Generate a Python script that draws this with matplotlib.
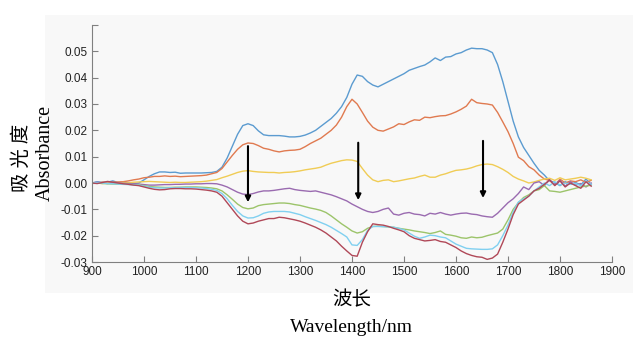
import numpy as np
import matplotlib
matplotlib.use('Agg')
from matplotlib import pyplot as plt
from matplotlib.patches import Rectangle

# wavelength grid (nm), 10 nm steps
wavelength = np.arange(900, 1861, 10)

blue = [0.0000, 0.0005, 0.0002, 0.0003, 0.0008, 0.0002, 0.0000, -0.0003, -0.0002, 0.0000,
        0.0012, 0.0025, 0.0035, 0.0042, 0.0042, 0.0040, 0.0041, 0.0037, 0.0038, 0.0038,
        0.0038, 0.0038, 0.0039, 0.0040, 0.0044, 0.0060, 0.0095, 0.0140, 0.0185, 0.0218,
        0.0225, 0.0218, 0.0198, 0.0183, 0.0180, 0.0180, 0.0180, 0.0178, 0.0175, 0.0175,
        0.0177, 0.0182, 0.0190, 0.0200, 0.0215, 0.0230, 0.0245, 0.0265, 0.0290, 0.0325,
        0.0375, 0.0410, 0.0405, 0.0385, 0.0372, 0.0365, 0.0375, 0.0385, 0.0395, 0.0405,
        0.0415, 0.0428, 0.0435, 0.0442, 0.0448, 0.0460, 0.0475, 0.0465, 0.0478, 0.0480,
        0.0490, 0.0495, 0.0505, 0.0512, 0.0510, 0.0510, 0.0505, 0.0495, 0.0450, 0.0385,
        0.0310, 0.0235, 0.0175, 0.0135, 0.0105, 0.0075, 0.0048, 0.0030, 0.0008, 0.0002,
        -0.0010, 0.0005, -0.0005, 0.0002, -0.0008, 0.0015, -0.0005]

orange = [0.0000, 0.0000, 0.0003, 0.0002, 0.0003, 0.0004, 0.0005, 0.0008, 0.0012, 0.0015,
          0.0020, 0.0022, 0.0025, 0.0025, 0.0027, 0.0025, 0.0026, 0.0024, 0.0025, 0.0026,
          0.0027, 0.0028, 0.0030, 0.0035, 0.0040, 0.0055, 0.0080, 0.0105, 0.0128, 0.0145,
          0.0152, 0.0150, 0.0142, 0.0132, 0.0128, 0.0122, 0.0118, 0.0122, 0.0124, 0.0125,
          0.0128, 0.0138, 0.0150, 0.0160, 0.0170, 0.0185, 0.0200, 0.0220, 0.0250, 0.0290,
          0.0318, 0.0300, 0.0268, 0.0235, 0.0212, 0.0200, 0.0197, 0.0205, 0.0213, 0.0225,
          0.0222, 0.0232, 0.0240, 0.0238, 0.0250, 0.0248, 0.0252, 0.0255, 0.0256, 0.0262,
          0.0270, 0.0280, 0.0292, 0.0318, 0.0305, 0.0302, 0.0300, 0.0296, 0.0268, 0.0232,
          0.0195, 0.0150, 0.0098, 0.0085, 0.0062, 0.0050, 0.0030, 0.0015, 0.0010, -0.0008,
          0.0015, 0.0000, 0.0008, 0.0005, 0.0012, 0.0002, 0.0010]

yellow = [0.0000, 0.0000, -0.0002, 0.0000, 0.0001, 0.0000, 0.0002, 0.0001, 0.0003, 0.0004,
          0.0005, 0.0006, 0.0005, 0.0004, 0.0003, 0.0002, 0.0003, 0.0002, 0.0002, 0.0003,
          0.0004, 0.0005, 0.0007, 0.0010, 0.0013, 0.0020, 0.0026, 0.0033, 0.0040, 0.0045,
          0.0047, 0.0044, 0.0042, 0.0041, 0.0040, 0.0040, 0.0038, 0.0040, 0.0041, 0.0043,
          0.0046, 0.0050, 0.0053, 0.0056, 0.0060, 0.0068, 0.0075, 0.0080, 0.0085, 0.0088,
          0.0087, 0.0082, 0.0055, 0.0030, 0.0012, 0.0005, 0.0010, 0.0012, 0.0005, 0.0008,
          0.0012, 0.0016, 0.0019, 0.0025, 0.0030, 0.0022, 0.0022, 0.0030, 0.0035, 0.0042,
          0.0048, 0.0050, 0.0053, 0.0058, 0.0065, 0.0070, 0.0072, 0.0070, 0.0062, 0.0052,
          0.0040, 0.0025, 0.0015, 0.0008, 0.0000, 0.0004, 0.0010, 0.0015, 0.0018, 0.0010,
          0.0020, 0.0012, 0.0015, 0.0018, 0.0022, 0.0018, 0.0012]

purple = [0.0000, 0.0003, 0.0000, -0.0002, 0.0001, 0.0000, -0.0001, -0.0002, -0.0003, -0.0004,
          -0.0006, -0.0008, -0.0008, -0.0007, -0.0006, -0.0006, -0.0005, -0.0005, -0.0004, -0.0004,
          -0.0003, -0.0003, -0.0002, -0.0002, -0.0003, -0.0008, -0.0015, -0.0025, -0.0035, -0.0042,
          -0.0044, -0.0040, -0.0034, -0.0030, -0.0030, -0.0028, -0.0025, -0.0022, -0.0020, -0.0025,
          -0.0028, -0.0030, -0.0032, -0.0030, -0.0035, -0.0040, -0.0045, -0.0052, -0.0060, -0.0068,
          -0.0080, -0.0090, -0.0100, -0.0108, -0.0112, -0.0108, -0.0100, -0.0095, -0.0118, -0.0122,
          -0.0115, -0.0112, -0.0118, -0.0120, -0.0125, -0.0115, -0.0118, -0.0112, -0.0118, -0.0122,
          -0.0118, -0.0115, -0.0114, -0.0118, -0.0120, -0.0125, -0.0128, -0.0130, -0.0115, -0.0095,
          -0.0075, -0.0060, -0.0040, -0.0015, -0.0025, 0.0000, 0.0005, -0.0010, 0.0012, -0.0005,
          0.0010, -0.0012, 0.0005, -0.0008, -0.0002, -0.0015, 0.0000]

green = [0.0000, 0.0000, -0.0002, -0.0003, -0.0004, -0.0004, -0.0005, -0.0005, -0.0006, -0.0007,
         -0.0010, -0.0013, -0.0015, -0.0016, -0.0017, -0.0017, -0.0016, -0.0016, -0.0015, -0.0015,
         -0.0015, -0.0016, -0.0017, -0.0019, -0.0022, -0.0030, -0.0045, -0.0062, -0.0080, -0.0093,
         -0.0098, -0.0095, -0.0086, -0.0082, -0.0080, -0.0078, -0.0076, -0.0076, -0.0078, -0.0082,
         -0.0085, -0.0090, -0.0095, -0.0099, -0.0104, -0.0112, -0.0125, -0.0140, -0.0155, -0.0168,
         -0.0182, -0.0190, -0.0185, -0.0172, -0.0165, -0.0164, -0.0165, -0.0167, -0.0168, -0.0172,
         -0.0175, -0.0178, -0.0182, -0.0185, -0.0188, -0.0192, -0.0188, -0.0182, -0.0195, -0.0198,
         -0.0202, -0.0208, -0.0210, -0.0205, -0.0208, -0.0206, -0.0200, -0.0195, -0.0190, -0.0175,
         -0.0140, -0.0100, -0.0075, -0.0055, -0.0045, -0.0030, -0.0025, -0.0010, -0.0030, -0.0032,
         -0.0035, -0.0030, -0.0025, -0.0020, -0.0015, -0.0012, -0.0008]

cyan = [0.0000, 0.0002, 0.0000, -0.0002, -0.0003, -0.0004, -0.0005, -0.0006, -0.0007, -0.0008,
        -0.0012, -0.0016, -0.0018, -0.0019, -0.0019, -0.0018, -0.0018, -0.0017, -0.0017, -0.0017,
        -0.0018, -0.0019, -0.0021, -0.0024, -0.0028, -0.0040, -0.0060, -0.0085, -0.0108, -0.0125,
        -0.0133, -0.0132, -0.0125, -0.0115, -0.0110, -0.0108, -0.0108, -0.0108, -0.0110, -0.0115,
        -0.0120, -0.0128, -0.0135, -0.0142, -0.0150, -0.0158, -0.0168, -0.0180, -0.0192, -0.0205,
        -0.0235, -0.0237, -0.0215, -0.0180, -0.0165, -0.0165, -0.0166, -0.0166, -0.0168, -0.0172,
        -0.0178, -0.0190, -0.0202, -0.0210, -0.0205, -0.0198, -0.0200, -0.0205, -0.0208, -0.0220,
        -0.0232, -0.0240, -0.0248, -0.0250, -0.0251, -0.0252, -0.0252, -0.0250, -0.0235, -0.0200,
        -0.0160, -0.0110, -0.0072, -0.0060, -0.0050, -0.0030, -0.0015, 0.0000, -0.0010, 0.0005,
        -0.0008, 0.0000, -0.0005, -0.0002, -0.0010, 0.0005, -0.0005]

red = [0.0000, -0.0002, 0.0002, 0.0006, 0.0003, 0.0000, -0.0003, -0.0005, -0.0008, -0.0010,
       -0.0015, -0.0020, -0.0024, -0.0026, -0.0025, -0.0022, -0.0021, -0.0021, -0.0022, -0.0022,
       -0.0023, -0.0025, -0.0027, -0.0030, -0.0035, -0.0050, -0.0075, -0.0100, -0.0125, -0.0145,
       -0.0155, -0.0152, -0.0145, -0.0140, -0.0135, -0.0135, -0.0130, -0.0132, -0.0136, -0.0140,
       -0.0145, -0.0152, -0.0160, -0.0168, -0.0178, -0.0190, -0.0205, -0.0220, -0.0240, -0.0258,
       -0.0275, -0.0278, -0.0225, -0.0185, -0.0155, -0.0158, -0.0160, -0.0165, -0.0172, -0.0178,
       -0.0185, -0.0200, -0.0210, -0.0215, -0.0220, -0.0218, -0.0215, -0.0222, -0.0225, -0.0235,
       -0.0245, -0.0258, -0.0268, -0.0275, -0.0280, -0.0282, -0.0290, -0.0285, -0.0270, -0.0225,
       -0.0175, -0.0120, -0.0080, -0.0065, -0.0050, -0.0030, -0.0020, -0.0005, 0.0012, -0.0010,
       0.0008, -0.0015, 0.0000, -0.0010, -0.0020, 0.0005, -0.0012]

series = [blue, orange, yellow, purple, green, cyan, red]
colors = ['#5b9bd0', '#e07a50', '#f0cc55', '#9a6bb0', '#9cc46a', '#80d0f0', '#b04858']

# arrows: wavelength, start, end
arrow_x = [1200, 1412, 1652]
arrow_top = [0.0140, 0.0153, 0.0160]
arrow_tip = [-0.0073, -0.0065, -0.0057]

xticks = [900, 1000, 1100, 1200, 1300, 1400, 1500, 1600, 1700, 1800, 1900]
yticks = [-0.03, -0.02, -0.01, 0.00, 0.01, 0.02, 0.03, 0.04, 0.05]

plt.rcParams['font.family'] = ['Liberation Sans', 'DejaVu Sans']

fig = plt.figure(figsize=(6.33, 3.39), dpi=100)
bg = Rectangle((0.071, 0.136), 0.929, 0.82, transform=fig.transFigure,
               facecolor='#f8f8f8', edgecolor='none', zorder=-10)
fig.add_artist(bg)

ax = fig.add_axes([0.1453, 0.2271, 0.8215, 0.6992])
ax.patch.set_alpha(0)

for vals, c in zip(series, colors):
    ax.plot(wavelength, vals, color=c, lw=1.0)

for x, y0, y1 in zip(arrow_x, arrow_top, arrow_tip):
    ax.annotate('', xy=(x, y1), xytext=(x, y0),
                arrowprops=dict(arrowstyle='-|>', color='black', lw=1.5,
                                mutation_scale=8, shrinkA=0, shrinkB=0))

ax.set_xlim(900, 1900)
ax.set_ylim(-0.03, 0.06)
ax.set_xticks(xticks)
ax.set_yticks(yticks)
ax.set_yticklabels(['%.2f' % v for v in yticks])
ax.set_yticks([0.06], minor=True)
ax.tick_params(direction='in', length=4, width=0.8, color='#808080',
               labelsize=8.5, labelcolor='#222222')
ax.tick_params(axis='y', which='minor', direction='in', length=4, width=0.8, color='#808080')
ax.tick_params(axis='y', pad=3)
ax.tick_params(axis='x', pad=3)
for s in ['top', 'right']:
    ax.spines[s].set_visible(False)
for s in ['left', 'bottom']:
    ax.spines[s].set_color('#808080')
    ax.spines[s].set_linewidth(0.8)

serif = ['Liberation Serif', 'Noto Sans CJK SC']
fig.text(0.556, 0.115, '波长', ha='center', va='center', fontsize=14, family=serif)
fig.text(0.556, 0.035, 'Wavelength/nm', ha='center', va='center', fontsize=14, family=serif)
fig.text(0.035, 0.534, '吸 光 度', ha='center', va='center', rotation=90, fontsize=14, family=serif)
fig.text(0.072, 0.55, 'Absorbance', ha='center', va='center', rotation=90, fontsize=14.5, family=serif)

fig.savefig('out.png', dpi=100)
